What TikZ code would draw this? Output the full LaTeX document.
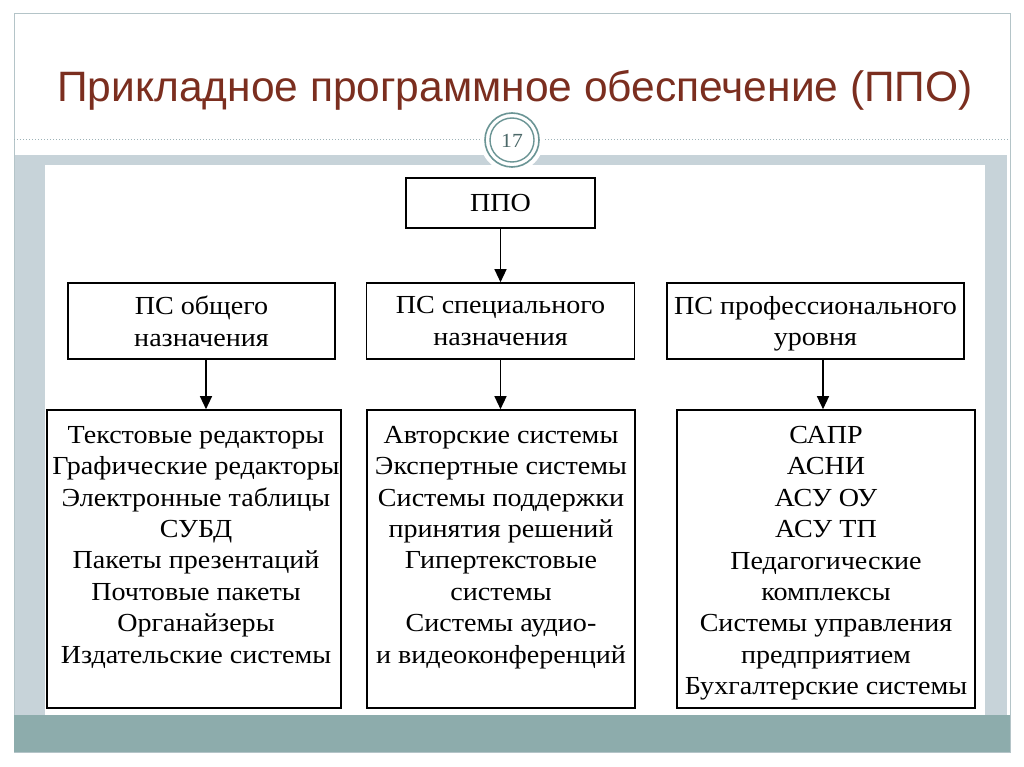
\documentclass[tikz,border=0pt]{standalone}
\usepackage{fontspec}
\setmainfont{Liberation Serif}[FakeStretch=1.08]
\newfontfamily\titlefont{Liberation Sans}
\usetikzlibrary{arrows.meta}
\definecolor{titlered}{HTML}{7B2E1F}
\definecolor{bandgray}{HTML}{C7D3D9}
\definecolor{bandteal}{HTML}{8DACAC}
\definecolor{ringteal}{HTML}{6B9595}
\definecolor{dotgray}{HTML}{9DB2B7}
\definecolor{framegray}{HTML}{B4C4C8}

\begin{document}
\begin{tikzpicture}[x=1pt,y=-1pt,
    box/.style={draw,line width=1.6pt,inner sep=0pt},
    lbl/.style={font=\fontsize{26}{31.4}\selectfont,align=center},
    arr/.style={line width=1.3pt,-{Triangle[length=13pt,width=12pt]}}]
  \useasboundingbox (0,0) rectangle (1024,767);
  % slide background
  \fill[white] (0,0) rectangle (1024,767);
  \draw[framegray,line width=1pt] (14,14) rectangle (1010,752);
  \fill[bandgray] (15,155) rectangle (1007,715);
  \fill[bandteal] (14,715) rectangle (1010,752);
  \fill[white] (45,165) rectangle (985,715);
  \draw[dotgray,line width=1pt,dotted] (14,140) -- (1010,140);
  \fill[white] (512,140) circle (32);
  \draw[ringteal,line width=1.6pt] (512,140) circle (27);
  \draw[ringteal,line width=1.4pt] (512,140) circle (22);
  \node[text=ringteal!70!black,font=\fontsize{20}{20}\selectfont] (num) at (512,141) {17};
  \node[text=titlered,font=\titlefont\fontsize{42.5}{42.5}\selectfont,anchor=base] (title) at (515,102) {Прикладное программное обеспечение (ППО)};
  % diagram
  \node[box,lbl,minimum width=189,minimum height=50] (ppo) at (500.5,203) {ППО};
  \node[box,lbl,text depth=0pt,minimum width=267,minimum height=76] (g1) at (201.5,321) {ПС общего\\назначения};
  \node[box,lbl,text depth=0pt,minimum width=268,minimum height=76] (g2) at (500.5,321) {ПС специального\\назначения};
  \node[box,lbl,text depth=0pt,minimum width=297,minimum height=76] (g3) at (815.5,321) {ПС профессионального\\уровня};
  \node[box,minimum width=294,minimum height=298] (l1) at (194,559) {};
  \node[box,minimum width=268,minimum height=298] (l2) at (501,559) {};
  \node[box,minimum width=298,minimum height=298] (l3) at (826,559) {};
  \node[lbl,anchor=north,inner sep=0pt] (t1) at (196,426) {Текстовые редакторы\\Графические редакторы\\Электронные таблицы\\СУБД\\Пакеты презентаций\\Почтовые пакеты\\Органайзеры\\Издательские системы};
  \node[lbl,anchor=north,inner sep=0pt] (t2) at (501,426) {Авторские системы\\Экспертные системы\\Системы поддержки\\принятия решений\\Гипертекстовые\\системы\\Системы аудио-\\и видеоконференций};
  \node[lbl,anchor=north,inner sep=0pt] (t3) at (826,426) {САПР\\АСНИ\\АСУ ОУ\\АСУ ТП\\Педагогические\\комплексы\\Системы управления\\предприятием\\Бухгалтерские системы};
  \draw[arr] (ppo) -- (g2);
  \draw[arr] ([xshift=4.5]g1.south) -- ([xshift=4.5]g1.south |- l1.north);
  \draw[arr] (g2) -- (g2 |- l2.north);
  \draw[arr] ([xshift=7.5]g3.south) -- ([xshift=7.5]g3.south |- l3.north);
\end{tikzpicture}
\end{document}
